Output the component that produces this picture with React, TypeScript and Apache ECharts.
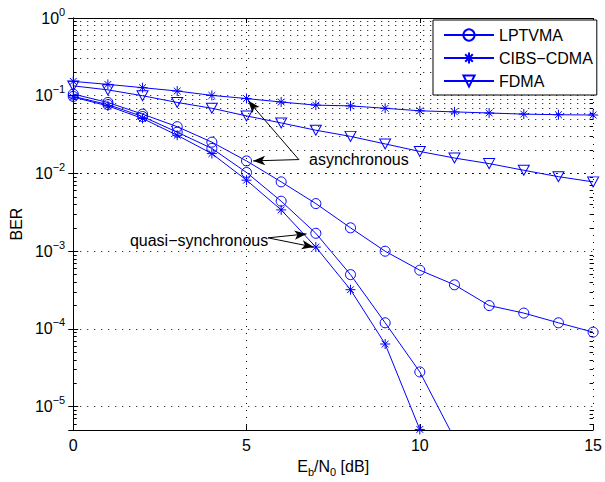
import React, { useEffect, useRef } from "react";
import * as echarts from "echarts";

// ---------- data ----------
const ebn0 = [0, 1, 2, 3, 4, 5, 6, 7, 8, 9, 10, 11, 12, 13, 14, 15];

const lptvmaAsync = [0.105, 0.082, 0.058, 0.04, 0.0253, 0.0145, 0.0078, 0.0041, 0.002, 0.001, 0.00057, 0.00037, 0.0002, 0.00016, 0.00012, 0.000091];
const lptvmaQuasi = [0.098, 0.077, 0.054, 0.034, 0.021, 0.0103, 0.0044, 0.0017, 0.0005, 0.00012, 0.000028, 0.0000039];
const cibsAsync = [0.153, 0.14, 0.127, 0.115, 0.101, 0.092, 0.083, 0.0757, 0.074, 0.069, 0.064, 0.062, 0.06, 0.058, 0.057, 0.0565];
const cibsQuasi = [0.096, 0.074, 0.051, 0.031, 0.018, 0.0082, 0.0034, 0.00113, 0.00032, 0.000064, 0.0000051];
const fdma = [0.134, 0.119, 0.1, 0.082, 0.069, 0.055, 0.0447, 0.036, 0.03, 0.024, 0.0192, 0.0158, 0.0134, 0.011, 0.0091, 0.0078];

const legendNames = ["LPTVMA", "CIBS\u2212CDMA", "FDMA"];

const xTicks = { min: 0, max: 15, interval: 5 };
const yRange = { min: 5e-6, max: 1 };
const minorDecades = [-6, -5, -4, -3, -2, -1];
const minorMultipliers = [2, 3, 4, 5, 6, 7, 8, 9];

// annotations: [label, [x, y]] and arrows [[tailX, tailY], [tipX, tipY]]
const asyncLabel = { text: "asynchronous", at: [6.79, 0.0151] };
const quasiLabel = { text: "quasi\u2212synchronous", at: [1.62, 0.00136] };
const asyncArrows = [
  [[6.51, 0.0151], [5.05, 0.0859]],
  [[6.51, 0.0151], [5.19, 0.01452]],
];
const quasiArrows = [
  [[5.62, 0.001486], [6.73, 0.00167]],
  [[5.62, 0.001486], [6.94, 0.00113]],
];

// ---------- styling ----------
const FONT = "'Liberation Sans', Arial, Helvetica, sans-serif";
const BLUE = "#0000ff";
const STAR = "path://M5,0L5,10M0,5L10,5M1.6,1.6L8.4,8.4M1.6,8.4L8.4,1.6";
const TRI_DOWN = "path://M0,0L10,0L5,9Z";
const DOT = [1, 6];

function pairs(xs: number[], ys: number[]) {
  return ys.map((y, i) => [xs[i], y]);
}

function dataSeries(name: string, values: number[], symbol: string, size: any) {
  return {
    type: "line",
    name,
    data: pairs(ebn0, values),
    symbol,
    symbolSize: size,
    showAllSymbol: true,
    clip: true,
    z: 3,
    lineStyle: { color: BLUE, width: 1 },
    itemStyle: { color: "rgba(0,0,0,0)", borderColor: BLUE, borderWidth: 1 },
    emphasis: { disabled: true },
  };
}

export default function App() {
  const ref = useRef<HTMLDivElement>(null);

  useEffect(() => {
    if (!ref.current) return;
    const chart = echarts.init(ref.current, undefined, { renderer: "svg" });

    const minorValues: number[] = [];
    minorDecades.forEach((d) =>
      minorMultipliers.forEach((k) => {
        const v = k * Math.pow(10, d);
        if (v > yRange.min * 1.0001 && v < yRange.max) minorValues.push(v);
      })
    );

    const gridLines: any[] = minorValues.map((v) => ({ yAxis: v }));
    const tickLen = 0.1;
    const minorTicks: any[] = [];
    minorValues.forEach((v) => {
      minorTicks.push([{ coord: [xTicks.min, v] }, { coord: [xTicks.min + tickLen, v] }]);
      minorTicks.push([{ coord: [xTicks.max - tickLen, v] }, { coord: [xTicks.max, v] }]);
    });

    const arrowItems = [...asyncArrows, ...quasiArrows].map((a) => [
      { coord: a[0], symbol: "none" },
      { coord: a[1], symbol: "arrow" },
    ]);

    const yLabelFormatter = (v: number) => {
      const e = Math.log10(v);
      const r = Math.round(e);
      if (Math.abs(e - r) > 1e-6) return "";
      return `{b|10}{s|${r < 0 ? "\u2212" : ""}${Math.abs(r)}}`;
    };

    const axisLine = { show: true, lineStyle: { color: "#000", width: 1 } };
    const axisTick = { show: true, inside: true, length: 5, lineStyle: { color: "#000", width: 1 } };

    chart.setOption({
      animation: false,
      backgroundColor: "#fff",
      textStyle: { fontFamily: FONT },
      grid: { left: 69, right: 8, top: 18, bottom: 48, containLabel: false },
      legend: {
        data: legendNames,
        orient: "vertical",
        left: 433,
        top: 20,
        padding: [7, 4, 6, 10],
        itemWidth: 50,
        itemHeight: 14,
        itemGap: 7,
        backgroundColor: "#fff",
        borderColor: "#000",
        borderWidth: 1,
        borderRadius: 0,
        selectedMode: false,
        textStyle: { fontSize: 16, color: "#000", fontFamily: FONT },
      },
      xAxis: [
        {
          type: "value",
          min: xTicks.min,
          max: xTicks.max,
          interval: xTicks.interval,
          position: "bottom",
          axisLine,
          axisTick,
          axisLabel: { fontSize: 16, color: "#000", margin: 7, fontFamily: FONT },
          splitLine: { show: true, lineStyle: { color: "#000", width: 1, type: DOT } },
          name: "{a|E}{s|b}{a|/N}{s|0}{a| [dB]}",
          nameLocation: "middle",
          nameGap: 24,
          nameTextStyle: {
            color: "#000",
            fontFamily: FONT,
            rich: {
              a: { fontSize: 16, lineHeight: 22, verticalAlign: "middle", color: "#000", fontFamily: FONT },
              s: { fontSize: 11, lineHeight: 22, verticalAlign: "bottom", color: "#000", fontFamily: FONT },
            },
          },
        },
        {
          type: "value",
          min: xTicks.min,
          max: xTicks.max,
          interval: xTicks.interval,
          position: "top",
          axisLine,
          axisTick,
          axisLabel: { show: false },
          splitLine: { show: false },
        },
      ],
      yAxis: [
        {
          type: "log",
          logBase: 10,
          min: yRange.min,
          max: yRange.max,
          position: "left",
          axisLine,
          axisTick,
          axisLabel: {
            formatter: yLabelFormatter,
            margin: 8,
            color: "#000",
            rich: {
              b: { fontSize: 16, lineHeight: 24, verticalAlign: "middle", color: "#000", fontFamily: FONT },
              s: { fontSize: 11, lineHeight: 24, verticalAlign: "top", color: "#000", fontFamily: FONT },
            },
          },
          splitLine: { show: true, lineStyle: { color: "#000", width: 1, type: DOT } },
          name: "BER",
          nameLocation: "middle",
          nameRotate: 90,
          nameGap: 46,
          nameTextStyle: { fontSize: 16, color: "#000", fontFamily: FONT },
        },
        {
          type: "log",
          logBase: 10,
          min: yRange.min,
          max: yRange.max,
          position: "right",
          axisLine,
          axisTick,
          axisLabel: { show: false },
          splitLine: { show: false },
        },
      ],
      series: [
        {
          type: "line",
          name: "grid-helper",
          data: [],
          silent: true,
          markLine: {
            silent: true,
            z: 1,
            symbol: "none",
            label: { show: false },
            animation: false,
            lineStyle: { color: "#000", width: 1, type: DOT },
            emphasis: { disabled: true },
            data: gridLines,
          },
        },
        {
          type: "line",
          name: "tick-helper",
          data: [],
          silent: true,
          markLine: {
            silent: true,
            z: 1,
            symbol: "none",
            label: { show: false },
            animation: false,
            lineStyle: { color: "#000", width: 1, type: "solid" },
            emphasis: { disabled: true },
            data: minorTicks,
          },
        },
        dataSeries(legendNames[0], lptvmaAsync, "circle", 10),
        dataSeries(legendNames[1], cibsAsync, STAR, 10),
        dataSeries(legendNames[2], fdma, TRI_DOWN, [11, 10]),
        dataSeries("LPTVMA quasi", lptvmaQuasi, "circle", 10),
        dataSeries("CIBS quasi", cibsQuasi, STAR, 10),
        {
          type: "line",
          name: "annotations",
          data: [],
          silent: true,
          markLine: {
            silent: true,
            z: 6,
            symbolSize: [7, 12],
            label: { show: false },
            animation: false,
            lineStyle: { color: "#000", width: 1, type: "solid" },
            itemStyle: { color: "#000" },
            emphasis: { disabled: true },
            data: arrowItems,
          },
          markPoint: {
            silent: true,
            z: 6,
            symbol: "rect",
            symbolSize: 1,
            itemStyle: { color: "rgba(0,0,0,0)" },
            label: {
              show: true,
              position: "right",
              distance: 0,
              formatter: "{b}",
              color: "#000",
              fontSize: 16,
              fontFamily: FONT,
            },
            emphasis: { disabled: true },
            data: [
              { name: asyncLabel.text, coord: asyncLabel.at },
              { name: quasiLabel.text, coord: quasiLabel.at },
            ],
          },
        },
      ],
    });

    return () => chart.dispose();
  }, []);

  return (
    <div
      ref={ref}
      style={{ position: "fixed", left: 0, top: 0, width: 605, height: 482, background: "#fff" }}
    />
  );
}
